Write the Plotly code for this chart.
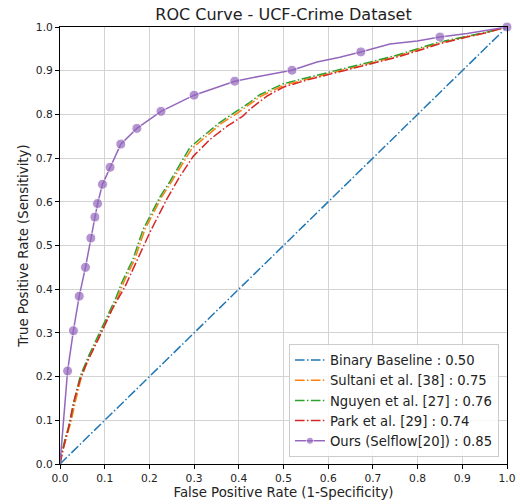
import plotly.graph_objects as go

# ---------------- data ----------------
baseline_fpr = [0.0, 1.0]
baseline_tpr = [0.0, 1.0]

nguyen_fpr = [0.0, 0.005, 0.012, 0.022, 0.033, 0.045, 0.063, 0.083, 0.107, 0.125, 0.139, 0.163, 0.186,
              0.205, 0.224, 0.245, 0.262, 0.291, 0.320, 0.358, 0.396, 0.421, 0.447, 0.499, 0.553, 0.600,
              0.649, 0.700, 0.745, 0.799, 0.850, 0.911, 0.950, 1.0]
nguyen_tpr = [0.0, 0.030, 0.060, 0.094, 0.150, 0.200, 0.245, 0.289, 0.342, 0.380, 0.417, 0.468, 0.537,
              0.575, 0.612, 0.645, 0.674, 0.725, 0.750, 0.782, 0.808, 0.825, 0.845, 0.870, 0.884, 0.896,
              0.908, 0.922, 0.933, 0.950, 0.966, 0.979, 0.987, 1.0]

sultani_fpr = [0.0, 0.006, 0.014, 0.024, 0.036, 0.048, 0.066, 0.087, 0.111, 0.129, 0.143, 0.167, 0.190,
               0.209, 0.228, 0.249, 0.266, 0.295, 0.324, 0.362, 0.400, 0.424, 0.450, 0.501, 0.555, 0.602,
               0.651, 0.702, 0.747, 0.800, 0.851, 0.911, 0.950, 1.0]
sultani_tpr = [0.0, 0.030, 0.060, 0.094, 0.150, 0.200, 0.245, 0.289, 0.342, 0.380, 0.417, 0.468, 0.537,
               0.575, 0.612, 0.645, 0.674, 0.722, 0.747, 0.780, 0.805, 0.822, 0.842, 0.867, 0.881, 0.894,
               0.906, 0.920, 0.931, 0.948, 0.964, 0.978, 0.986, 1.0]

park_fpr = [0.0, 0.006, 0.018, 0.030, 0.045, 0.060, 0.085, 0.116, 0.145, 0.168, 0.201, 0.239, 0.268,
            0.298, 0.336, 0.374, 0.409, 0.425, 0.463, 0.499, 0.550, 0.600, 0.649, 0.700, 0.750, 0.799,
            0.850, 0.910, 0.950, 1.0]
park_tpr = [0.0, 0.030, 0.078, 0.140, 0.193, 0.232, 0.284, 0.353, 0.405, 0.455, 0.530, 0.606, 0.658,
            0.704, 0.743, 0.773, 0.796, 0.812, 0.842, 0.862, 0.878, 0.891, 0.904, 0.917, 0.930, 0.945,
            0.962, 0.977, 0.986, 1.0]

ours_fpr = [0.0, 0.017, 0.030, 0.043, 0.057, 0.069, 0.078, 0.084, 0.095, 0.112, 0.136, 0.172, 0.226,
            0.300, 0.391, 0.450, 0.519, 0.575, 0.626, 0.673, 0.738, 0.799, 0.850, 0.911, 1.0]
ours_tpr = [0.0, 0.213, 0.305, 0.384, 0.450, 0.517, 0.565, 0.596, 0.640, 0.679, 0.732, 0.768, 0.807,
            0.844, 0.876, 0.888, 0.901, 0.920, 0.931, 0.943, 0.961, 0.968, 0.977, 0.985, 1.0]
ours_marker = [False, True, True, True, True, True, True, True, True, True, True, True, True,
               True, True, False, True, False, False, True, False, False, True, False, True]

labels = ["Binary Baseline : 0.50", "Sultani et al. [38] : 0.75", "Nguyen et al. [27] : 0.76",
          "Park et al. [29] : 0.74", "Ours (Selflow[20]) : 0.85"]
tick_vals = [0.0, 0.1, 0.2, 0.3, 0.4, 0.5, 0.6, 0.7, 0.8, 0.9, 1.0]
tick_text = ["0.0", "0.1", "0.2", "0.3", "0.4", "0.5", "0.6", "0.7", "0.8", "0.9", "1.0"]

# ---------------- figure ----------------
DASHDOT = "9.6px,2.4px,1.5px,2.4px"
fig = go.Figure()

fig.add_trace(go.Scatter(x=baseline_fpr, y=baseline_tpr, mode="lines", name=labels[0],
                         line=dict(color="#1f77b4", width=1.5, dash=DASHDOT)))
fig.add_trace(go.Scatter(x=sultani_fpr, y=sultani_tpr, mode="lines", name=labels[1],
                         line=dict(color="#ff7f0e", width=1.5, dash=DASHDOT)))
fig.add_trace(go.Scatter(x=nguyen_fpr, y=nguyen_tpr, mode="lines", name=labels[2],
                         line=dict(color="#2ca02c", width=1.5, dash=DASHDOT)))
fig.add_trace(go.Scatter(x=park_fpr, y=park_tpr, mode="lines", name=labels[3],
                         line=dict(color="#d62728", width=1.5, dash=DASHDOT)))
fig.add_trace(go.Scatter(x=ours_fpr, y=ours_tpr, mode="lines+markers", name=labels[4],
                         line=dict(color="#9467bd", width=1.5),
                         marker=dict(color="#9467bd", size=[10 if m else 0 for m in ours_marker]),
                         cliponaxis=False))

axis_common = dict(range=[0, 1], tickvals=tick_vals, ticktext=tick_text, automargin=False,
                   showgrid=True, gridcolor="#d3d3d3", gridwidth=1,
                   showline=True, linecolor="black", linewidth=1, mirror=True,
                   ticks="outside", ticklen=4, tickcolor="black", tickwidth=1,
                   zeroline=False, tickfont=dict(size=10.7, color="#222"))

fig.update_layout(
    width=520, height=504,
    margin=dict(l=60, r=13, t=27, b=40),
    paper_bgcolor="white", plot_bgcolor="white",
    font=dict(family="DejaVu Sans", color="#222"),
    title=dict(text="ROC Curve - UCF-Crime Dataset", x=0.5, xref="paper",
               y=1 - 14 / 504, yref="container", yanchor="middle",
               font=dict(size=16, color="#222")),
    xaxis=dict(axis_common, title=dict(text="False Positive Rate (1-Specificity)",
                                       font=dict(size=13.3), standoff=2)),
    yaxis=dict(axis_common, title=dict(text="True Positive Rate (Sensitivity)",
                                       font=dict(size=13.3), standoff=4)),
    legend=dict(x=0.982, y=0.016, xanchor="right", yanchor="bottom",
                bgcolor="rgba(255,255,255,0.85)", bordercolor="#cccccc", borderwidth=1,
                font=dict(size=13.2, color="#222"), itemwidth=30, tracegroupgap=0),
    showlegend=True,
)

fig.write_html("out.html")
